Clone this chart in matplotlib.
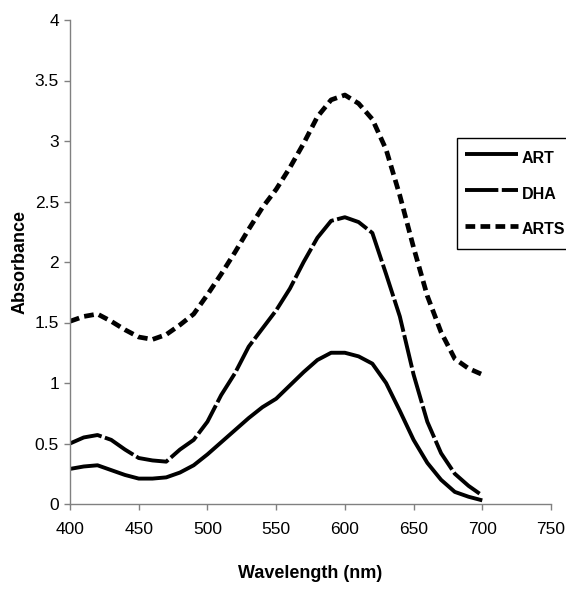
import matplotlib
matplotlib.use("Agg")
import matplotlib.pyplot as plt

plt.rcParams["font.family"] = ["Liberation Sans", "DejaVu Sans"]
plt.rcParams["lines.scale_dashes"] = False

# absorbance spectra, 10 nm steps
wavelength = list(range(400, 701, 10))
art = [0.29, 0.31, 0.32, 0.28, 0.24, 0.21, 0.21, 0.22, 0.26, 0.32, 0.41,
       0.51, 0.61, 0.71, 0.80, 0.87, 0.98, 1.09, 1.19, 1.25, 1.25,
       1.22, 1.16, 1.00, 0.77, 0.53, 0.34, 0.20, 0.10, 0.06, 0.03]
dha = [0.50, 0.55, 0.57, 0.53, 0.45, 0.38, 0.36, 0.35, 0.45, 0.53, 0.68,
       0.90, 1.08, 1.30, 1.45, 1.60, 1.78, 2.00, 2.20, 2.34, 2.37,
       2.33, 2.24, 1.90, 1.55, 1.07, 0.68, 0.42, 0.25, 0.15, 0.07]
arts = [1.51, 1.55, 1.57, 1.51, 1.44, 1.38, 1.36, 1.40, 1.48, 1.57, 1.73,
        1.90, 2.08, 2.27, 2.45, 2.60, 2.78, 2.98, 3.20, 3.34, 3.38,
        3.31, 3.18, 2.93, 2.55, 2.12, 1.72, 1.42, 1.20, 1.12, 1.07]

x_ticks = [400, 450, 500, 550, 600, 650, 700, 750]
y_ticks = [0, 0.5, 1, 1.5, 2, 2.5, 3, 3.5, 4]
y_ticklabels = ["0", "0.5", "1", "1.5", "2", "2.5", "3", "3.5", "4"]

fig = plt.figure(figsize=(5.66, 5.89), dpi=100)
ax = fig.add_axes([70 / 566, 1 - 504 / 589, 481 / 566, 484 / 589])

ax.plot(wavelength, art, color="black", lw=2.8, label="ART", solid_capstyle="butt")
ax.plot(wavelength, dha, color="black", lw=2.8, dashes=(24, 2.5), label="DHA")
ax.plot(wavelength, arts, color="black", lw=3.4, dashes=(7, 3.8), label="ARTS")

ax.set_xlim(400, 750)
ax.set_ylim(0, 4)
ax.set_xticks(x_ticks)
ax.set_yticks(y_ticks)
ax.set_yticklabels(y_ticklabels)
for s in ("top", "right"):
    ax.spines[s].set_visible(False)
for s in ("left", "bottom"):
    ax.spines[s].set_color("#808080")
    ax.spines[s].set_linewidth(1.0)
ax.tick_params(colors="#808080", labelcolor="black", length=4, width=1,
               labelsize=12.5)
ax.tick_params(axis="x", pad=9)
ax.tick_params(axis="y", pad=4)

ax.set_xlabel("Wavelength (nm)", fontsize=13, fontweight="bold", labelpad=20)
ax.set_ylabel("Absorbance", fontsize=13, fontweight="bold", labelpad=4)

# legend box sits against the right edge, like the reference
leg = fig.legend(loc="upper left", bbox_to_anchor=(457 / 566, 1 - 138 / 589),
                 frameon=True, fancybox=False, framealpha=1, edgecolor="black",
                 prop={"weight": "bold", "size": 11.5}, handlelength=3.3,
                 handleheight=1.9, handletextpad=0.25, labelspacing=0.75,
                 borderpad=0.5, borderaxespad=0)
leg.get_frame().set_linewidth(1.0)

fig.savefig("out.png", dpi=100)
